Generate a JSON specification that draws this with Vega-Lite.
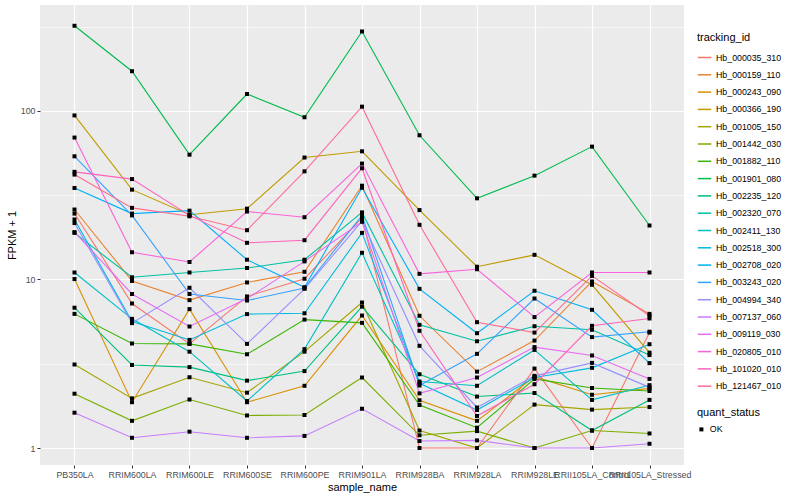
{
"$schema": "https://vega.github.io/schema/vega-lite/v6.json",
"autosize": "none",
"width": 644, "height": 460,
"padding": {"left": 40, "top": 5, "right": 116, "bottom": 35},
"data": {"values": [
{"t":"Hb_000035_310","s":"PB350LA","v":24.6,"q":"OK"},{"t":"Hb_000035_310","s":"RRIM600LA","v":7.2,"q":"OK"},{"t":"Hb_000035_310","s":"RRIM600LE","v":4.15,"q":"OK"},{"t":"Hb_000035_310","s":"RRIM600SE","v":7.93,"q":"OK"},{"t":"Hb_000035_310","s":"RRIM600PE","v":10.1,"q":"OK"},{"t":"Hb_000035_310","s":"RRIM901LA","v":23.2,"q":"OK"},{"t":"Hb_000035_310","s":"RRIM928BA","v":1.0,"q":"OK"},{"t":"Hb_000035_310","s":"RRIM928LA","v":1.0,"q":"OK"},{"t":"Hb_000035_310","s":"RRIM928LE","v":2.96,"q":"OK"},{"t":"Hb_000035_310","s":"RRII105LA_Control","v":1.0,"q":"OK"},{"t":"Hb_000035_310","s":"RRII105LA_Stressed","v":4.84,"q":"OK"},
{"t":"Hb_000159_110","s":"PB350LA","v":26,"q":"OK"},{"t":"Hb_000159_110","s":"RRIM600LA","v":9.8,"q":"OK"},{"t":"Hb_000159_110","s":"RRIM600LE","v":7.54,"q":"OK"},{"t":"Hb_000159_110","s":"RRIM600SE","v":9.6,"q":"OK"},{"t":"Hb_000159_110","s":"RRIM600PE","v":11.1,"q":"OK"},{"t":"Hb_000159_110","s":"RRIM901LA","v":36,"q":"OK"},{"t":"Hb_000159_110","s":"RRIM928BA","v":6.09,"q":"OK"},{"t":"Hb_000159_110","s":"RRIM928LA","v":2.84,"q":"OK"},{"t":"Hb_000159_110","s":"RRIM928LE","v":4.34,"q":"OK"},{"t":"Hb_000159_110","s":"RRII105LA_Control","v":9.73,"q":"OK"},{"t":"Hb_000159_110","s":"RRII105LA_Stressed","v":6.25,"q":"OK"},
{"t":"Hb_000243_090","s":"PB350LA","v":10.06,"q":"OK"},{"t":"Hb_000243_090","s":"RRIM600LA","v":1.87,"q":"OK"},{"t":"Hb_000243_090","s":"RRIM600LE","v":6.67,"q":"OK"},{"t":"Hb_000243_090","s":"RRIM600SE","v":1.87,"q":"OK"},{"t":"Hb_000243_090","s":"RRIM600PE","v":2.34,"q":"OK"},{"t":"Hb_000243_090","s":"RRIM901LA","v":6.11,"q":"OK"},{"t":"Hb_000243_090","s":"RRIM928BA","v":1.92,"q":"OK"},{"t":"Hb_000243_090","s":"RRIM928LA","v":1.45,"q":"OK"},{"t":"Hb_000243_090","s":"RRIM928LE","v":2.65,"q":"OK"},{"t":"Hb_000243_090","s":"RRII105LA_Control","v":2.07,"q":"OK"},{"t":"Hb_000243_090","s":"RRII105LA_Stressed","v":2.26,"q":"OK"},
{"t":"Hb_000366_190","s":"PB350LA","v":94,"q":"OK"},{"t":"Hb_000366_190","s":"RRIM600LA","v":34.1,"q":"OK"},{"t":"Hb_000366_190","s":"RRIM600LE","v":24.2,"q":"OK"},{"t":"Hb_000366_190","s":"RRIM600SE","v":26.3,"q":"OK"},{"t":"Hb_000366_190","s":"RRIM600PE","v":52.9,"q":"OK"},{"t":"Hb_000366_190","s":"RRIM901LA","v":57.6,"q":"OK"},{"t":"Hb_000366_190","s":"RRIM928BA","v":25.8,"q":"OK"},{"t":"Hb_000366_190","s":"RRIM928LA","v":11.9,"q":"OK"},{"t":"Hb_000366_190","s":"RRIM928LE","v":14.0,"q":"OK"},{"t":"Hb_000366_190","s":"RRII105LA_Control","v":9.3,"q":"OK"},{"t":"Hb_000366_190","s":"RRII105LA_Stressed","v":3.68,"q":"OK"},
{"t":"Hb_001005_150","s":"PB350LA","v":3.13,"q":"OK"},{"t":"Hb_001005_150","s":"RRIM600LA","v":1.97,"q":"OK"},{"t":"Hb_001005_150","s":"RRIM600LE","v":2.63,"q":"OK"},{"t":"Hb_001005_150","s":"RRIM600SE","v":2.13,"q":"OK"},{"t":"Hb_001005_150","s":"RRIM600PE","v":3.73,"q":"OK"},{"t":"Hb_001005_150","s":"RRIM901LA","v":7.3,"q":"OK"},{"t":"Hb_001005_150","s":"RRIM928BA","v":1.27,"q":"OK"},{"t":"Hb_001005_150","s":"RRIM928LA","v":1.0,"q":"OK"},{"t":"Hb_001005_150","s":"RRIM928LE","v":1.81,"q":"OK"},{"t":"Hb_001005_150","s":"RRII105LA_Control","v":1.69,"q":"OK"},{"t":"Hb_001005_150","s":"RRII105LA_Stressed","v":1.75,"q":"OK"},
{"t":"Hb_001442_030","s":"PB350LA","v":2.10,"q":"OK"},{"t":"Hb_001442_030","s":"RRIM600LA","v":1.45,"q":"OK"},{"t":"Hb_001442_030","s":"RRIM600LE","v":1.94,"q":"OK"},{"t":"Hb_001442_030","s":"RRIM600SE","v":1.56,"q":"OK"},{"t":"Hb_001442_030","s":"RRIM600PE","v":1.57,"q":"OK"},{"t":"Hb_001442_030","s":"RRIM901LA","v":2.62,"q":"OK"},{"t":"Hb_001442_030","s":"RRIM928BA","v":1.19,"q":"OK"},{"t":"Hb_001442_030","s":"RRIM928LA","v":1.26,"q":"OK"},{"t":"Hb_001442_030","s":"RRIM928LE","v":1.0,"q":"OK"},{"t":"Hb_001442_030","s":"RRII105LA_Control","v":1.27,"q":"OK"},{"t":"Hb_001442_030","s":"RRII105LA_Stressed","v":1.22,"q":"OK"},
{"t":"Hb_001882_110","s":"PB350LA","v":6.25,"q":"OK"},{"t":"Hb_001882_110","s":"RRIM600LA","v":4.17,"q":"OK"},{"t":"Hb_001882_110","s":"RRIM600LE","v":4.15,"q":"OK"},{"t":"Hb_001882_110","s":"RRIM600SE","v":3.6,"q":"OK"},{"t":"Hb_001882_110","s":"RRIM600PE","v":5.78,"q":"OK"},{"t":"Hb_001882_110","s":"RRIM901LA","v":5.53,"q":"OK"},{"t":"Hb_001882_110","s":"RRIM928BA","v":1.80,"q":"OK"},{"t":"Hb_001882_110","s":"RRIM928LA","v":1.32,"q":"OK"},{"t":"Hb_001882_110","s":"RRIM928LE","v":2.57,"q":"OK"},{"t":"Hb_001882_110","s":"RRII105LA_Control","v":2.27,"q":"OK"},{"t":"Hb_001882_110","s":"RRII105LA_Stressed","v":2.18,"q":"OK"},
{"t":"Hb_001901_080","s":"PB350LA","v":320,"q":"OK"},{"t":"Hb_001901_080","s":"RRIM600LA","v":172,"q":"OK"},{"t":"Hb_001901_080","s":"RRIM600LE","v":55,"q":"OK"},{"t":"Hb_001901_080","s":"RRIM600SE","v":126,"q":"OK"},{"t":"Hb_001901_080","s":"RRIM600PE","v":91.7,"q":"OK"},{"t":"Hb_001901_080","s":"RRIM901LA","v":296,"q":"OK"},{"t":"Hb_001901_080","s":"RRIM928BA","v":71.7,"q":"OK"},{"t":"Hb_001901_080","s":"RRIM928LA","v":30.3,"q":"OK"},{"t":"Hb_001901_080","s":"RRIM928LE","v":41.3,"q":"OK"},{"t":"Hb_001901_080","s":"RRII105LA_Control","v":61.4,"q":"OK"},{"t":"Hb_001901_080","s":"RRII105LA_Stressed","v":20.9,"q":"OK"},
{"t":"Hb_002235_120","s":"PB350LA","v":6.8,"q":"OK"},{"t":"Hb_002235_120","s":"RRIM600LA","v":3.11,"q":"OK"},{"t":"Hb_002235_120","s":"RRIM600LE","v":3.02,"q":"OK"},{"t":"Hb_002235_120","s":"RRIM600SE","v":2.51,"q":"OK"},{"t":"Hb_002235_120","s":"RRIM600PE","v":2.86,"q":"OK"},{"t":"Hb_002235_120","s":"RRIM901LA","v":6.9,"q":"OK"},{"t":"Hb_002235_120","s":"RRIM928BA","v":2.74,"q":"OK"},{"t":"Hb_002235_120","s":"RRIM928LA","v":2.02,"q":"OK"},{"t":"Hb_002235_120","s":"RRIM928LE","v":2.12,"q":"OK"},{"t":"Hb_002235_120","s":"RRII105LA_Control","v":1.27,"q":"OK"},{"t":"Hb_002235_120","s":"RRII105LA_Stressed","v":1.93,"q":"OK"},
{"t":"Hb_002320_070","s":"PB350LA","v":18.9,"q":"OK"},{"t":"Hb_002320_070","s":"RRIM600LA","v":10.3,"q":"OK"},{"t":"Hb_002320_070","s":"RRIM600LE","v":11.0,"q":"OK"},{"t":"Hb_002320_070","s":"RRIM600SE","v":11.7,"q":"OK"},{"t":"Hb_002320_070","s":"RRIM600PE","v":13.1,"q":"OK"},{"t":"Hb_002320_070","s":"RRIM901LA","v":25,"q":"OK"},{"t":"Hb_002320_070","s":"RRIM928BA","v":5.38,"q":"OK"},{"t":"Hb_002320_070","s":"RRIM928LA","v":4.3,"q":"OK"},{"t":"Hb_002320_070","s":"RRIM928LE","v":5.28,"q":"OK"},{"t":"Hb_002320_070","s":"RRII105LA_Control","v":5.03,"q":"OK"},{"t":"Hb_002320_070","s":"RRII105LA_Stressed","v":3.56,"q":"OK"},
{"t":"Hb_002411_130","s":"PB350LA","v":11.0,"q":"OK"},{"t":"Hb_002411_130","s":"RRIM600LA","v":5.84,"q":"OK"},{"t":"Hb_002411_130","s":"RRIM600LE","v":3.73,"q":"OK"},{"t":"Hb_002411_130","s":"RRIM600SE","v":1.9,"q":"OK"},{"t":"Hb_002411_130","s":"RRIM600PE","v":3.86,"q":"OK"},{"t":"Hb_002411_130","s":"RRIM901LA","v":14.4,"q":"OK"},{"t":"Hb_002411_130","s":"RRIM928BA","v":2.48,"q":"OK"},{"t":"Hb_002411_130","s":"RRIM928LA","v":2.34,"q":"OK"},{"t":"Hb_002411_130","s":"RRIM928LE","v":3.82,"q":"OK"},{"t":"Hb_002411_130","s":"RRII105LA_Control","v":1.93,"q":"OK"},{"t":"Hb_002411_130","s":"RRII105LA_Stressed","v":2.36,"q":"OK"},
{"t":"Hb_002518_300","s":"PB350LA","v":22.7,"q":"OK"},{"t":"Hb_002518_300","s":"RRIM600LA","v":5.63,"q":"OK"},{"t":"Hb_002518_300","s":"RRIM600LE","v":4.38,"q":"OK"},{"t":"Hb_002518_300","s":"RRIM600SE","v":6.23,"q":"OK"},{"t":"Hb_002518_300","s":"RRIM600PE","v":6.3,"q":"OK"},{"t":"Hb_002518_300","s":"RRIM901LA","v":18.9,"q":"OK"},{"t":"Hb_002518_300","s":"RRIM928BA","v":2.42,"q":"OK"},{"t":"Hb_002518_300","s":"RRIM928LA","v":1.68,"q":"OK"},{"t":"Hb_002518_300","s":"RRIM928LE","v":2.62,"q":"OK"},{"t":"Hb_002518_300","s":"RRII105LA_Control","v":2.99,"q":"OK"},{"t":"Hb_002518_300","s":"RRII105LA_Stressed","v":4.13,"q":"OK"},
{"t":"Hb_002708_020","s":"PB350LA","v":34.9,"q":"OK"},{"t":"Hb_002708_020","s":"RRIM600LA","v":24.6,"q":"OK"},{"t":"Hb_002708_020","s":"RRIM600LE","v":25.6,"q":"OK"},{"t":"Hb_002708_020","s":"RRIM600SE","v":13.1,"q":"OK"},{"t":"Hb_002708_020","s":"RRIM600PE","v":9.0,"q":"OK"},{"t":"Hb_002708_020","s":"RRIM901LA","v":35,"q":"OK"},{"t":"Hb_002708_020","s":"RRIM928BA","v":8.8,"q":"OK"},{"t":"Hb_002708_020","s":"RRIM928LA","v":4.8,"q":"OK"},{"t":"Hb_002708_020","s":"RRIM928LE","v":8.57,"q":"OK"},{"t":"Hb_002708_020","s":"RRII105LA_Control","v":6.61,"q":"OK"},{"t":"Hb_002708_020","s":"RRII105LA_Stressed","v":3.19,"q":"OK"},
{"t":"Hb_003243_020","s":"PB350LA","v":53.8,"q":"OK"},{"t":"Hb_003243_020","s":"RRIM600LA","v":24.0,"q":"OK"},{"t":"Hb_003243_020","s":"RRIM600LE","v":8.2,"q":"OK"},{"t":"Hb_003243_020","s":"RRIM600SE","v":7.5,"q":"OK"},{"t":"Hb_003243_020","s":"RRIM600PE","v":8.9,"q":"OK"},{"t":"Hb_003243_020","s":"RRIM901LA","v":24,"q":"OK"},{"t":"Hb_003243_020","s":"RRIM928BA","v":2.35,"q":"OK"},{"t":"Hb_003243_020","s":"RRIM928LA","v":3.62,"q":"OK"},{"t":"Hb_003243_020","s":"RRIM928LE","v":7.71,"q":"OK"},{"t":"Hb_003243_020","s":"RRII105LA_Control","v":4.55,"q":"OK"},{"t":"Hb_003243_020","s":"RRII105LA_Stressed","v":4.9,"q":"OK"},
{"t":"Hb_004994_340","s":"PB350LA","v":21.6,"q":"OK"},{"t":"Hb_004994_340","s":"RRIM600LA","v":5.51,"q":"OK"},{"t":"Hb_004994_340","s":"RRIM600LE","v":8.93,"q":"OK"},{"t":"Hb_004994_340","s":"RRIM600SE","v":4.15,"q":"OK"},{"t":"Hb_004994_340","s":"RRIM600PE","v":8.8,"q":"OK"},{"t":"Hb_004994_340","s":"RRIM901LA","v":22.2,"q":"OK"},{"t":"Hb_004994_340","s":"RRIM928BA","v":4.04,"q":"OK"},{"t":"Hb_004994_340","s":"RRIM928LA","v":1.74,"q":"OK"},{"t":"Hb_004994_340","s":"RRIM928LE","v":2.68,"q":"OK"},{"t":"Hb_004994_340","s":"RRII105LA_Control","v":3.2,"q":"OK"},{"t":"Hb_004994_340","s":"RRII105LA_Stressed","v":2.29,"q":"OK"},
{"t":"Hb_007137_060","s":"PB350LA","v":1.62,"q":"OK"},{"t":"Hb_007137_060","s":"RRIM600LA","v":1.15,"q":"OK"},{"t":"Hb_007137_060","s":"RRIM600LE","v":1.25,"q":"OK"},{"t":"Hb_007137_060","s":"RRIM600SE","v":1.15,"q":"OK"},{"t":"Hb_007137_060","s":"RRIM600PE","v":1.18,"q":"OK"},{"t":"Hb_007137_060","s":"RRIM901LA","v":1.71,"q":"OK"},{"t":"Hb_007137_060","s":"RRIM928BA","v":1.10,"q":"OK"},{"t":"Hb_007137_060","s":"RRIM928LA","v":1.11,"q":"OK"},{"t":"Hb_007137_060","s":"RRIM928LE","v":1.0,"q":"OK"},{"t":"Hb_007137_060","s":"RRII105LA_Control","v":1.0,"q":"OK"},{"t":"Hb_007137_060","s":"RRII105LA_Stressed","v":1.06,"q":"OK"},
{"t":"Hb_009119_030","s":"PB350LA","v":19.1,"q":"OK"},{"t":"Hb_009119_030","s":"RRIM600LA","v":8.2,"q":"OK"},{"t":"Hb_009119_030","s":"RRIM600LE","v":5.26,"q":"OK"},{"t":"Hb_009119_030","s":"RRIM600SE","v":7.7,"q":"OK"},{"t":"Hb_009119_030","s":"RRIM600PE","v":12.8,"q":"OK"},{"t":"Hb_009119_030","s":"RRIM901LA","v":22.0,"q":"OK"},{"t":"Hb_009119_030","s":"RRIM928BA","v":2.11,"q":"OK"},{"t":"Hb_009119_030","s":"RRIM928LA","v":2.62,"q":"OK"},{"t":"Hb_009119_030","s":"RRIM928LE","v":3.97,"q":"OK"},{"t":"Hb_009119_030","s":"RRII105LA_Control","v":3.54,"q":"OK"},{"t":"Hb_009119_030","s":"RRII105LA_Stressed","v":2.57,"q":"OK"},
{"t":"Hb_020805_010","s":"PB350LA","v":69.5,"q":"OK"},{"t":"Hb_020805_010","s":"RRIM600LA","v":14.5,"q":"OK"},{"t":"Hb_020805_010","s":"RRIM600LE","v":12.7,"q":"OK"},{"t":"Hb_020805_010","s":"RRIM600SE","v":25.3,"q":"OK"},{"t":"Hb_020805_010","s":"RRIM600PE","v":23.4,"q":"OK"},{"t":"Hb_020805_010","s":"RRIM901LA","v":48.7,"q":"OK"},{"t":"Hb_020805_010","s":"RRIM928BA","v":10.8,"q":"OK"},{"t":"Hb_020805_010","s":"RRIM928LA","v":11.5,"q":"OK"},{"t":"Hb_020805_010","s":"RRIM928LE","v":5.98,"q":"OK"},{"t":"Hb_020805_010","s":"RRII105LA_Control","v":11.0,"q":"OK"},{"t":"Hb_020805_010","s":"RRII105LA_Stressed","v":11.0,"q":"OK"},
{"t":"Hb_101020_010","s":"PB350LA","v":43.5,"q":"OK"},{"t":"Hb_101020_010","s":"RRIM600LA","v":39.4,"q":"OK"},{"t":"Hb_101020_010","s":"RRIM600LE","v":24.0,"q":"OK"},{"t":"Hb_101020_010","s":"RRIM600SE","v":16.5,"q":"OK"},{"t":"Hb_101020_010","s":"RRIM600PE","v":17.1,"q":"OK"},{"t":"Hb_101020_010","s":"RRIM901LA","v":45.7,"q":"OK"},{"t":"Hb_101020_010","s":"RRIM928BA","v":4.96,"q":"OK"},{"t":"Hb_101020_010","s":"RRIM928LA","v":1.55,"q":"OK"},{"t":"Hb_101020_010","s":"RRIM928LE","v":2.39,"q":"OK"},{"t":"Hb_101020_010","s":"RRII105LA_Control","v":5.31,"q":"OK"},{"t":"Hb_101020_010","s":"RRII105LA_Stressed","v":5.87,"q":"OK"},
{"t":"Hb_121467_010","s":"PB350LA","v":41.9,"q":"OK"},{"t":"Hb_121467_010","s":"RRIM600LA","v":26.6,"q":"OK"},{"t":"Hb_121467_010","s":"RRIM600LE","v":23.7,"q":"OK"},{"t":"Hb_121467_010","s":"RRIM600SE","v":19.6,"q":"OK"},{"t":"Hb_121467_010","s":"RRIM600PE","v":43.8,"q":"OK"},{"t":"Hb_121467_010","s":"RRIM901LA","v":106,"q":"OK"},{"t":"Hb_121467_010","s":"RRIM928BA","v":21.1,"q":"OK"},{"t":"Hb_121467_010","s":"RRIM928LA","v":5.58,"q":"OK"},{"t":"Hb_121467_010","s":"RRIM928LE","v":4.84,"q":"OK"},{"t":"Hb_121467_010","s":"RRII105LA_Control","v":10.5,"q":"OK"},{"t":"Hb_121467_010","s":"RRII105LA_Stressed","v":6.09,"q":"OK"}
]},
"encoding": {
  "x": {"field": "s", "type": "nominal", "title": "sample_name",
        "sort": ["PB350LA","RRIM600LA","RRIM600LE","RRIM600SE","RRIM600PE","RRIM901LA","RRIM928BA","RRIM928LA","RRIM928LE","RRII105LA_Control","RRII105LA_Stressed"],
        "scale": {"type": "point", "padding": 0.6},
        "axis": {"labelAngle": 0, "labelOverlap": false, "labelFlush": false, "grid": true, "titlePadding": 3}},
  "y": {"field": "v", "type": "quantitative", "title": "FPKM + 1",
        "scale": {"type": "log", "domain": [0.793, 425], "nice": false, "zero": false}}
},
"layer": [
  {"mark": {"type": "line", "strokeWidth": 1.1},
   "encoding": {
     "y": {"field": "v", "type": "quantitative", "title": "FPKM + 1",
           "axis": {"values": [1, 10, 100], "format": "d", "grid": true, "titlePadding": 3}},
     "color": {"field": "t", "type": "nominal", "title": "tracking_id",
       "scale": {"domain": ["Hb_000035_310","Hb_000159_110","Hb_000243_090","Hb_000366_190","Hb_001005_150","Hb_001442_030","Hb_001882_110","Hb_001901_080","Hb_002235_120","Hb_002320_070","Hb_002411_130","Hb_002518_300","Hb_002708_020","Hb_003243_020","Hb_004994_340","Hb_007137_060","Hb_009119_030","Hb_020805_010","Hb_101020_010","Hb_121467_010"],
         "range": ["#F8766D","#EA8331","#D89000","#C09B00","#A3A500","#7CAE00","#39B600","#00BB4E","#00BF7D","#00C1A3","#00BFC4","#00BAE0","#00B0F6","#35A2FF","#9590FF","#C77CFF","#E76BF3","#FA62DB","#FF62BC","#FF6C91"]},
       "legend": {"orient": "none", "legendX": 657, "legendY": 27, "symbolType": "stroke", "symbolStrokeWidth": 1.5, "symbolSize": 180, "rowPadding": 4.3, "titlePadding": 7, "labelFontSize": 8.8, "titleFontSize": 11, "titleFontWeight": "normal", "labelColor": "#000000", "titleColor": "#000000"}}
   }},
  {"mark": {"type": "point", "filled": true, "color": "#000000", "opacity": 1, "size": 16},
   "encoding": {
     "y": {"field": "v", "type": "quantitative",
           "axis": {"orient": "left", "values": [3.1623, 31.623, 316.23], "labels": false, "ticks": false, "domain": false, "grid": true, "gridWidth": 0.6, "title": null}},
     "shape": {"field": "q", "type": "nominal", "title": "quant_status",
       "scale": {"domain": ["OK"], "range": ["square"]},
       "legend": {"orient": "none", "legendX": 657, "legendY": 402, "symbolSize": 16, "symbolFillColor": "#000000", "symbolStrokeColor": "#000000", "titlePadding": 7, "labelFontSize": 8.8, "titleFontSize": 11, "titleFontWeight": "normal", "labelColor": "#000000", "titleColor": "#000000"}}
   }}
],
"resolve": {"axis": {"y": "independent"}},
"config": {
  "font": "Liberation Sans",
  "view": {"fill": "#EBEBEB", "stroke": null},
  "axis": {"domain": false, "gridColor": "#FFFFFF", "gridWidth": 1.2, "tickColor": "#333333", "tickSize": 3, "tickWidth": 1, "labelColor": "#4D4D4D", "labelFontSize": 8.8, "labelPadding": 2, "titleFontSize": 11, "titleFontWeight": "normal", "titleColor": "#000000"}
}
}
